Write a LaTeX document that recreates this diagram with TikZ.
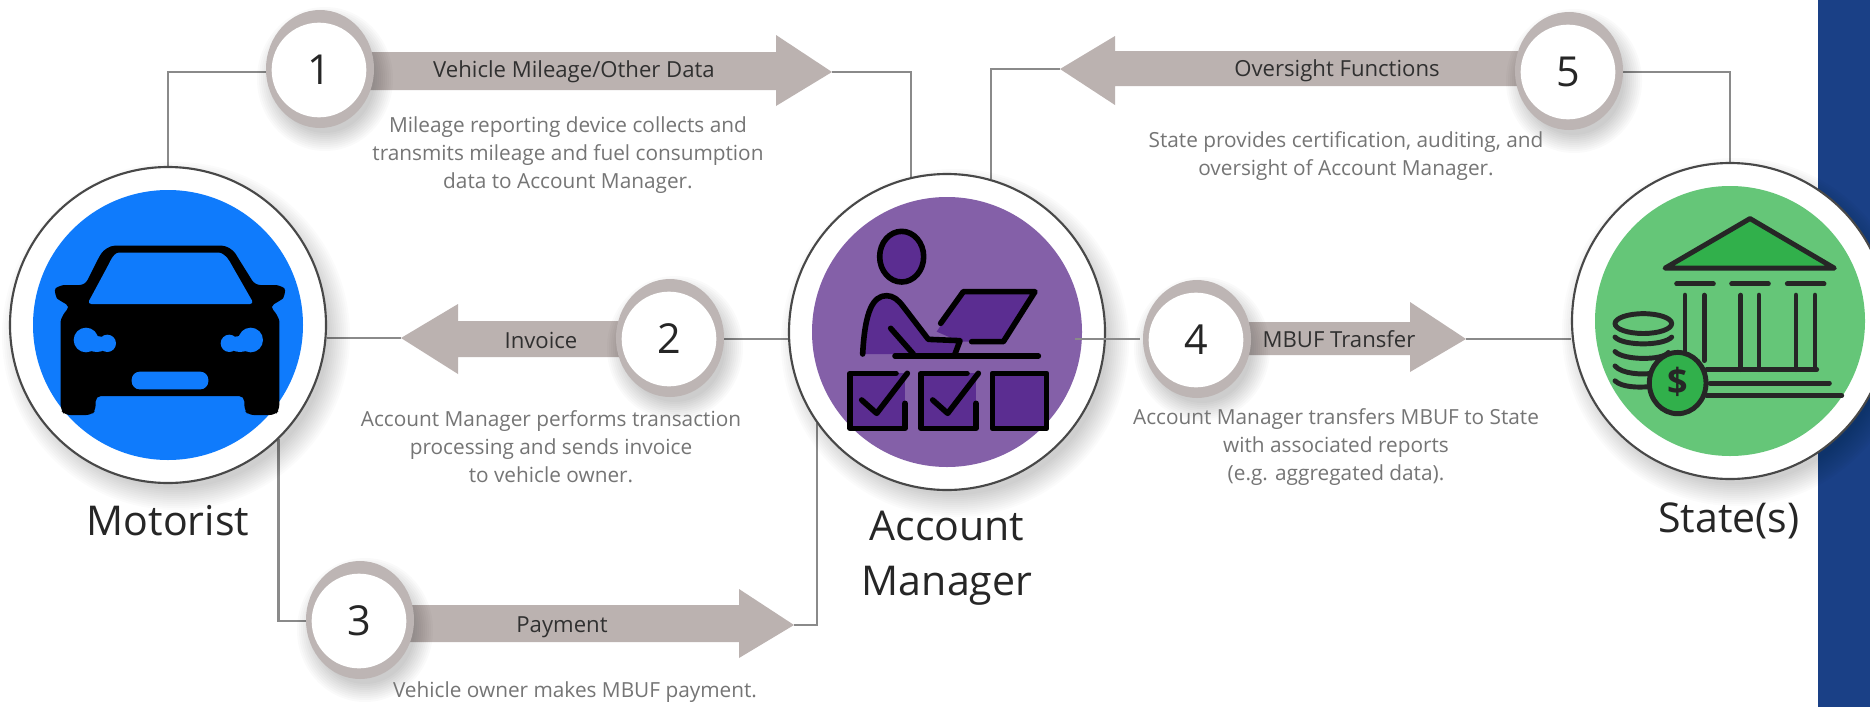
\documentclass[tikz,border=0pt]{standalone}
\usepackage{fontspec}
\setmainfont{Open Sans}
\usetikzlibrary{calc}
\pgfdeclarelayer{bg}\pgfdeclarelayer{conn}\pgfdeclarelayer{shad}
\pgfsetlayers{bg,conn,shad,main}
\definecolor{ringc}{HTML}{BDB5B4}
\definecolor{arrowc}{HTML}{BBB2B0}
\definecolor{linec}{HTML}{8A8A8A}
\definecolor{edgec}{HTML}{484848}
\definecolor{blued}{HTML}{0F7BFC}
\definecolor{purpl}{HTML}{8460A8}
\definecolor{purpd}{HTML}{5B2D91}
\definecolor{greenl}{HTML}{65C678}
\definecolor{greend}{HTML}{31B04B}
\definecolor{side}{HTML}{1A4086}
\definecolor{desc}{HTML}{757575}
\definecolor{lab}{HTML}{303030}
\tikzset{
  x=.75pt,y=-.75pt,
  bigdisc/.style={circle,draw=edgec,line width=1.6pt,fill=white,inner sep=0pt,minimum size=237pt},
  badgenode/.style={circle,fill=white,inner sep=0pt,minimum size=71pt,font=\fontsize{31}{31}\selectfont,text=black!85},
  conline/.style={draw=linec,line width=1.8pt},
  descnode/.style={align=center,text=desc,font=\fontsize{15.6}{21}\selectfont,inner sep=0pt},
  arrlabel/.style={text=lab,font=\fontsize{16.6}{18}\selectfont,inner sep=0pt},
  biglabel/.style={text=black!85,align=center,font=\fontsize{30.8}{41.5}\selectfont,inner sep=0pt},
  arrowbody/.style={fill=arrowc},
  iconline/.style={draw=black,line width=4.2pt,line cap=round,line join=round},
  bankline/.style={draw=black!85,line width=3.7pt,line cap=round,line join=round},
}
\newcommand{\softshadow}[3]{%
  \begin{pgfonlayer}{shad}
  \foreach \d in {0,2,...,22}{\fill[black,opacity=.016] (#1,#2) circle ({#3+\d-6});}
  \end{pgfonlayer}}
\newcommand{\badge}[4]{%
  \node[badgenode] (#1) at (#2,#3) {#4};
  \begin{pgfonlayer}{shad}
  \foreach \d in {0,2,...,18}{\fill[black,opacity=.018] ({#2+6},{#3+9}) ellipse ({50+\d} and {54+\d});}
  \fill[ringc] ({#2+1},{#3-1}) ellipse (54 and 59);
  \end{pgfonlayer}}
\begin{document}
\begin{tikzpicture}
\useasboundingbox (0,0) rectangle (1870,707);
\begin{pgfonlayer}{bg}
\fill[white] (0,0) rectangle (1870,707);
\fill[side] (1818,0) rectangle (1870,707);
\end{pgfonlayer}

% main circles
\node[bigdisc] (mot) at (168,325) {};
\fill[blued] (mot) circle (135);
\node[bigdisc] (acc) at (947,332) {};
\fill[purpl] (acc) circle (135);
\node[bigdisc] (sta) at (1730,321) {};
\fill[greenl] (sta) circle (135);
\softshadow{176}{336}{158}
\softshadow{955}{343}{158}
\softshadow{1736}{332}{158}

% car icon
\begin{scope}[shift={(0,150)},x=.25pt,y=-.25pt]
\fill[black,rounded corners=4pt] (195,795) -- (275,795) -- (287,780) -- (287,738) -- (733,738) -- (733,780) -- (745,795) -- (825,795) -- (838,780) -- (838,530)
  .. controls (838,505) and (825,485) .. (808,470) -- (835,455) .. controls (850,445) and (860,420) .. (840,405) -- (765,405) -- (715,325)
  .. controls (700,300) and (680,287) .. (650,287) -- (360,287) .. controls (330,287) and (310,300) .. (295,325) -- (255,405) -- (180,405)
  .. controls (160,420) and (170,445) .. (185,455) -- (212,470) .. controls (195,485) and (182,505) .. (182,530) -- (182,780) -- cycle;
\fill[blued,rounded corners=3pt] (262,462) -- (325,345) .. controls (338,318) and (348,308) .. (368,308) -- (645,308) .. controls (665,308) and (680,318) .. (695,345) -- (762,462) -- cycle;
\fill[blued] (258,570) circle (37) (322,580) circle (26) (290,582) ellipse (35 and 24);
\fill[blued] (752,570) circle (37) (688,580) circle (26) (720,582) ellipse (35 and 24);
\fill[blued,rounded corners=6pt] (395,665) rectangle (625,718);
\end{scope}

% account manager icon
\begin{scope}[shift={(770,150)},x=.25pt,y=-.25pt]
\fill[purpd] (278,612) .. controls (285,480) and (310,437) .. (350,437) .. controls (370,437) and (385,450) .. (400,470) -- (475,568) -- (570,572) -- (555,612) -- cycle;
\fill[purpd] (500,545) -- (580,425) -- (795,425) -- (700,575) -- (570,575) -- cycle;
\filldraw[iconline,fill=purpd] (395,320) ellipse (66 and 76);
\draw[iconline] (278,612) .. controls (285,480) and (310,437) .. (350,437) .. controls (370,437) and (385,450) .. (400,470) -- (475,568) -- (570,572) -- (555,612);
\draw[iconline] (362,535) -- (430,612);
\draw[iconline] (512,520) -- (580,425) -- (795,425) -- (700,575) -- (605,575);
\draw[iconline] (375,618) -- (805,618);
\fill[purpd] (240,670) rectangle (405,835);
\fill[purpd] (453,670) rectangle (618,835);
\fill[purpd] (667,670) rectangle (830,835);
\draw[iconline] (378,670) -- (240,670) -- (240,835) -- (405,835) -- (405,760);
\draw[iconline] (275,750) -- (320,790) -- (412,670);
\draw[iconline] (591,670) -- (453,670) -- (453,835) -- (618,835) -- (618,760);
\draw[iconline] (488,750) -- (533,790) -- (625,670);
\draw[iconline] (667,670) rectangle (830,835);
\end{scope}

% bank icon
\begin{scope}[shift={(1550,0)},x=.25pt,y=-.338pt]
\filldraw[bankline,fill=greend] (345,595) -- (600,485) -- (853,595) -- cycle;
\draw[bankline] (380,630) -- (490,630) (545,630) -- (655,630) (712,630) -- (822,630);
\draw[bankline] (405,655) -- (405,800) (463,655) -- (463,800) (572,655) -- (572,820) (627,655) -- (627,820) (738,655) -- (738,820) (795,655) -- (795,820);
\draw[bankline] (470,820) -- (800,820) (480,850) -- (838,850) (470,878) -- (875,878);
\draw[bankline] (280,718) ellipse (85 and 22);
\draw[bankline] (195,748) .. controls (220,768) and (340,768) .. (365,748);
\draw[bankline] (195,780) .. controls (220,800) and (340,800) .. (355,782);
\draw[bankline] (195,812) .. controls (215,830) and (280,832) .. (305,828);
\draw[bankline] (195,845) .. controls (215,860) and (270,860) .. (295,858);
\filldraw[bankline,fill=greend] (383,850) ellipse (85 and 68);
\node[inner sep=0pt,text=black!85,font=\fontsize{27}{27}\bfseries\selectfont] (dollar) at (383,848) {\$};
\end{scope}

\badge{b1}{319}{70}{1}
\badge{b2}{669}{339}{2}
\badge{b3}{359}{621}{3}
\badge{b4}{1196}{340}{4}
\badge{b5}{1568}{72}{5}

% connectors and arrows
\begin{pgfonlayer}{conn}
\coordinate (a1tip) at (832,72);
\coordinate (a2tip) at (401,338);
\coordinate (a3tip) at (794,625);
\coordinate (a4tip) at (1466,339);
\coordinate (a5tip) at (1060,69);
\draw[conline] (mot.north) |- (b1 |- a1tip);
\draw[conline] (a1tip) -| (acc.103);
\draw[conline] (a5tip) -| (acc.74);
\draw[conline] (b5) -| (sta.north);
\draw[conline] (mot.east |- a2tip) -- (a2tip);
\draw[conline] (b2) -- (acc.west |- b2);
\draw[conline] (mot.-46) |- (b3);
\draw[conline] (a3tip) -| (acc.-145);
\draw[conline] (a4tip) -- (sta.west |- a4tip);
\fill[arrowbody] (b1) -- (320,52) -- (776,52) -- (776,35) -- (a1tip) -- (776,106) -- (776,90) -- (320,90) -- cycle;
\fill[arrowbody] (b2) -- (669,321) -- (458,321) -- (458,304) -- (a2tip) -- (458,374) -- (458,357) -- (669,357) -- cycle;
\fill[arrowbody] (b3) -- (359,605) -- (739,605) -- (739,589) -- (a3tip) -- (739,658) -- (739,642) -- (359,642) -- cycle;
\fill[arrowbody] (b4) -- (1196,322) -- (1410,322) -- (1410,302) -- (a4tip) -- (1410,372) -- (1410,355) -- (1196,355) -- cycle;
\fill[arrowbody] (b5) -- (1568,51) -- (1115,51) -- (1115,36) -- (a5tip) -- (1115,105) -- (1115,86) -- (1568,86) -- cycle;
\end{pgfonlayer}
\coordinate (acc4) at (1075,339);
\draw[conline,shorten >=6pt] (acc4) -- (b4.west |- acc4);

% labels
\node[biglabel] (tmot) at (168,521) {Motorist};
\node[biglabel] (tacc) at (947,558) {Account\\Manager};
\node[biglabel] (tsta) at (1729,521) {State(s)};
\node[arrlabel] (l1) at (574,72) {Vehicle Mileage/Other Data};
\node[arrlabel] (l2) at (541,340) {Invoice};
\node[arrlabel] (l3) at (562,627) {Payment};
\node[arrlabel] (l4) at (1339,339) {MBUF Transfer};
\node[arrlabel] (l5) at (1337,71) {Oversight Functions};
\node[descnode] (d1) at (568,155) {Mileage reporting device collects and\\transmits mileage and fuel consumption\\data to Account Manager.};
\node[descnode] (d2) at (551,447) {Account Manager performs transaction\\processing and sends invoice\\to vehicle owner.};
\node[descnode] (d3) at (575,692) {Vehicle owner makes MBUF payment.};
\node[descnode] (d4) at (1336,447) {Account Manager transfers MBUF to State\\with associated reports\\(e.g. aggregated data).};
\node[descnode] (d5) at (1346,156) {State provides certification, auditing, and\\oversight of Account Manager.};
\end{tikzpicture}
\end{document}
